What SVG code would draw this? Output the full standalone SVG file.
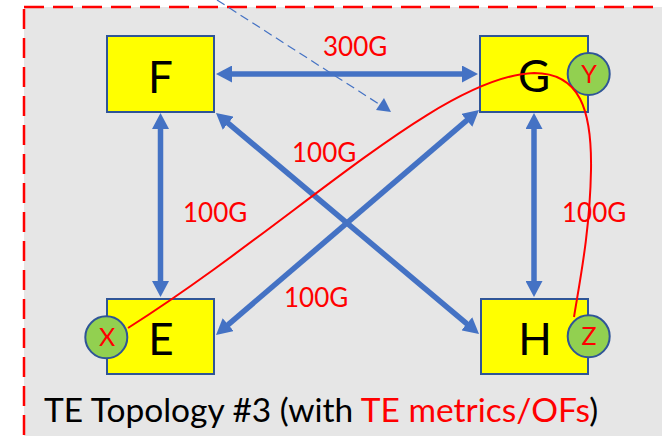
<svg xmlns="http://www.w3.org/2000/svg" width="662" height="436" viewBox="0 0 662 436">
<style>
.box{fill:#ffff00;stroke:#2f5597;stroke-width:2}
.port{fill:#92d050;stroke:#2f5597;stroke-width:2}
.nl{font-family:Lato,"Liberation Sans",sans-serif;font-size:44px;fill:#000;text-anchor:middle}
.pl{font-family:Lato,"Liberation Sans",sans-serif;font-size:25px;fill:#ff0000;text-anchor:middle}
.lbl{font-family:Lato,"Liberation Sans",sans-serif;font-size:26px;fill:#ff0000}
.link{stroke:#4472c4;stroke-width:5.5;fill:none;marker-start:url(#ah);marker-end:url(#ah)}
.title{font-family:Lato,"Liberation Sans",sans-serif;font-size:33.5px;fill:#000}
</style>
<defs>
<marker id="ah" viewBox="0 0 16 17" refX="8" refY="8.5" markerWidth="16" markerHeight="17" markerUnits="userSpaceOnUse" orient="auto-start-reverse">
<path d="M0,0 L16,8.5 L0,17 z" fill="#4472c4"/>
</marker>
</defs>
<rect x="0" y="0" width="662" height="436" fill="#ffffff"/>
<rect id="frame" x="24" y="7" width="700" height="500" fill="#e6e6e6" stroke="#ff0000" stroke-width="2.5" stroke-dasharray="20,9"/>
<g id="connectors">
<line class="link" x1="224" y1="74" x2="470" y2="74"/>
<line class="link" x1="160.5" y1="121" x2="160.5" y2="289"/>
<line class="link" x1="534" y1="121" x2="534" y2="289"/>
<line class="link" x1="222.1" y1="118.1" x2="472.9" y2="328.9"/>
<line class="link" x1="472.9" y1="115.2" x2="222.1" y2="329.8"/>
<line x1="217" y1="0" x2="382" y2="106" stroke="#4472c4" stroke-width="1.2" stroke-dasharray="9,5"/>
<polygon points="391,112 376,110 384,98" fill="#4472c4"/>
</g>
<g id="labels">
<text class="lbl" x="323" y="56">300G</text>
<text class="lbl" x="292" y="162">100G</text>
<text class="lbl" x="183" y="222">100G</text>
<text class="lbl" x="562" y="222">100G</text>
<text class="lbl" x="284" y="307">100G</text>
</g>
<g id="F"><rect class="box" x="107" y="36" width="107" height="76"/><text class="nl" x="160.5" y="93">F</text></g>
<g id="G"><rect class="box" x="480" y="36" width="108" height="76"/><text class="nl" x="534" y="92">G</text></g>
<g id="E"><rect class="box" x="107" y="299" width="107" height="75"/><text class="nl" x="161" y="355">E</text></g>
<g id="H"><rect class="box" x="481" y="299" width="107" height="75"/><text class="nl" x="535" y="355">H</text></g>
<g id="Y"><circle class="port" cx="588.7" cy="74" r="21"/><text class="pl" x="589" y="83">Y</text></g>
<g id="X"><circle class="port" cx="106.3" cy="337.3" r="21"/><text class="pl" x="107" y="346">X</text></g>
<g id="Z"><circle class="port" cx="588.7" cy="336.3" r="21"/><text class="pl" x="589" y="345">Z</text></g>
<g id="path">
<path d="M128,328 C295,222 440,76 534,73 C580,73 592,110 591,170 C590,230 580,280 574,317" fill="none" stroke="#ff0000" stroke-width="2"/>
</g>
<text class="title" x="44" y="422">TE Topology #3 (with <tspan fill="#ff0000">TE metrics/OFs</tspan>)</text>
</svg>
